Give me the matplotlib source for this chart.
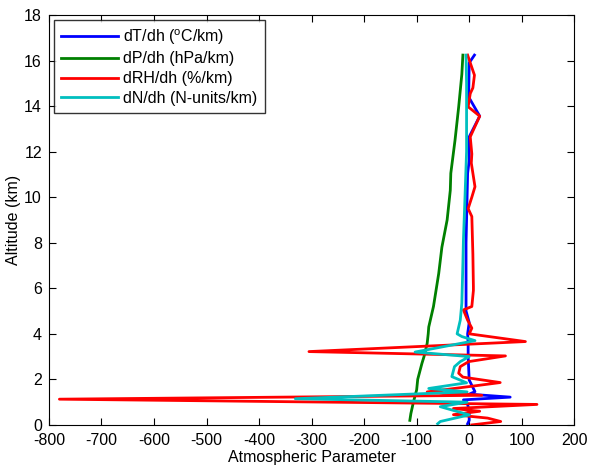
import matplotlib
matplotlib.use("Agg")
import matplotlib.pyplot as plt

plt.rcParams['font.family'] = ['Liberation Sans', 'DejaVu Sans']
plt.rcParams['axes.unicode_minus'] = False
plt.rcParams['mathtext.fontset'] = 'custom'
plt.rcParams['mathtext.rm'] = 'Liberation Sans'
plt.rcParams['mathtext.it'] = 'Liberation Sans'

# dT/dh (degC/km)
alt_T = [16.24, 15.9, 14.4, 13.56, 12.65, 11.6, 11.05, 8.0, 5.35, 5.0, 4.5, 4.0, 3.58, 3.0,
         1.97, 1.46, 1.35, 1.22, 1.1, 0.9, 0.6, 0.2, 0.05]
dT = [10, 0, -1, 20, 0, 0, -3, -6, -6, -6, 0, -3, -2, -2,
      0, 11, 0, 78, -11, -3, 0, 0, -3]

# dP/dh (hPa/km)
alt_P = [16.24, 15.4, 13.97, 12.5, 11.05, 10.3, 9.0, 7.8, 6.65, 5.2, 4.6, 4.3, 4.0, 3.58,
         3.0, 2.7, 2.0, 1.54, 1.02, 0.5, 0.2]
dP = [-12, -14, -20, -27, -35, -36, -42, -52, -58, -68, -74, -77, -78, -80,
      -86, -90, -98, -100, -106, -111, -113]

# dRH/dh (%/km)
alt_RH = [16.24, 15.9, 15.36, 14.8, 14.55, 13.97, 13.56, 12.65, 11.9, 11.5, 10.46, 10.0, 9.5,
          9.15, 7.5, 6.07, 5.9, 5.2, 5.05, 4.6, 4.25, 4.0, 3.66, 3.22, 3.03, 2.78, 2.56,
          2.27, 2.1, 1.86, 1.68, 1.45, 1.3, 1.13, 0.9, 0.72, 0.6, 0.45, 0.3, 0.15, 0.0]
dRH = [-3, 2, 10, 7, 2, -2, 20, 2, 5, 4, 11, 5, -2,
       5, 7, 8, 8, 5, -11, -3, 5, 0, 107, -305, 69, -1, -17,
       -20, -12, 59, -1, -80, 24, -780, 129, -30, 20, -30, 35, 60, 5]

# dN/dh (N-units/km)
alt_N = [16.24, 15.0, 12.0, 10.0, 8.1, 7.1, 5.35, 4.6, 4.3, 4.0, 3.88, 3.7, 3.2, 3.0,
         2.78, 2.56, 2.12, 1.85, 1.6, 1.45, 1.15, 1.0, 0.8, 0.44, 0.15, 0.05]
dN = [-6, -5, -5, -8, -11, -12, -14, -17, -20, -23, -14, 11, -103, 0,
      -17, -28, -33, -5, -77, -4, -331, -4, -55, 0, -55, -60]

labels = [r'dT/dh ($^{\rm o}$C/km)', 'dP/dh (hPa/km)', 'dRH/dh (%/km)', 'dN/dh (N-units/km)']
colors = ['#0000ff', '#008000', '#ff0000', '#00bfbf']

fig = plt.figure(figsize=(5.89, 4.69), dpi=100)
ax = fig.add_axes([0.083, 0.094, 0.892, 0.874])

ax.plot(dT, alt_T, color=colors[0], lw=2.0, label=labels[0])
ax.plot(dP, alt_P, color=colors[1], lw=2.0, label=labels[1])
ax.plot(dRH, alt_RH, color=colors[2], lw=2.0, label=labels[2])
ax.plot(dN, alt_N, color=colors[3], lw=2.0, label=labels[3])

ax.set_xlim(-800, 200)
ax.set_ylim(0, 18)
ax.set_xticks(range(-800, 201, 100))
ax.set_yticks(range(0, 19, 2))
ax.tick_params(direction='in', top=True, right=True, labelsize=11.5, length=5)
ax.tick_params(axis='x', pad=6)
ax.tick_params(axis='y', pad=5)
ax.set_xlabel('Atmospheric Parameter', fontsize=11.5, labelpad=1)
ax.set_ylabel('Altitude (km)', fontsize=11.5, labelpad=2)

leg = ax.legend(loc='upper left', fontsize=11.5, frameon=True, fancybox=False,
                edgecolor='black', handlelength=3.6, borderaxespad=0.3,
                labelspacing=0.3, borderpad=0.45, handletextpad=0.3)
leg.get_frame().set_linewidth(1.0)

fig.savefig('out.png', dpi=100, facecolor='white')
